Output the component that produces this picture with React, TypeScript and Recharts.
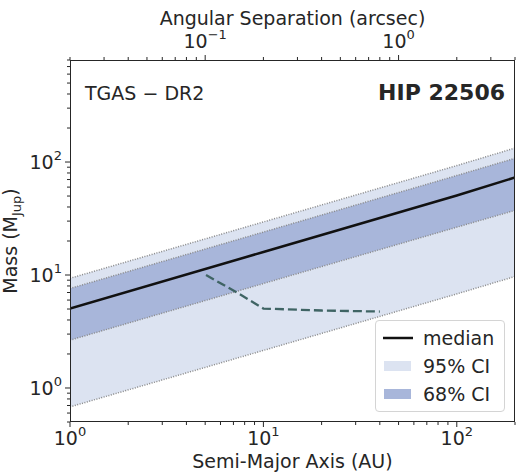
import React from "react";
import { ComposedChart, Area, Line, XAxis, YAxis } from "recharts";

// Mass limits vs. semi-major axis (AU), with credible intervals
const semiMajorAu = [1, 10, 100, 200];
const medianMass = [5.05, 16.0, 50.5, 73];
const ci68Low = [2.65, 8.4, 26.5, 37.3];
const ci68High = [7.6, 24, 76, 108];
const ci95Low = [0.68, 2.15, 6.8, 9.7];
const ci95High = [9.35, 29.5, 93, 133];

// dashed detection-limit curve
const limitAu = [5.05, 7.4, 10, 20, 40];
const limitMass = [10, 6.9, 5.05, 4.85, 4.75];

const distancePc = 50;

const xTicks = [1, 2, 3, 4, 5, 6, 7, 8, 9, 10, 20, 30, 40, 50, 60, 70, 80, 90, 100, 200];
const yTicks = [0.5, 0.6, 0.7, 0.8, 0.9, 1, 2, 3, 4, 5, 6, 7, 8, 9, 10, 20, 30, 40, 50, 60, 70, 80, 90, 100, 200, 300, 400, 500, 600, 700, 800];
const topTicks = [0.02, 0.03, 0.04, 0.05, 0.06, 0.07, 0.08, 0.09, 0.1, 0.2, 0.3, 0.4, 0.5, 0.6, 0.7, 0.8, 0.9, 1, 2, 3, 4];

const FONT = "DejaVu Sans";
const INK = "#262626";
const LIGHT = "#dce3f1";
const DARK = "#a8b6da";
const EDGE = "#8a8a8a";

const bandData = semiMajorAu.map((a, i) => ({
  a,
  arcsec: a / distancePc,
  median: medianMass[i],
  ci68: [ci68Low[i], ci68High[i]],
  ci95: [ci95Low[i], ci95High[i]],
  lo68: ci68Low[i],
  hi68: ci68High[i],
  lo95: ci95Low[i],
  hi95: ci95High[i],
}));

const limitData = limitAu.map((a, i) => ({ a, limit: limitMass[i] }));

const exponentOf = (v: number) => {
  const e = Math.round(Math.log10(v));
  return Math.abs(Math.log10(v) - e) < 1e-6 ? e : null;
};

const PowLabel = ({ exp }: { exp: number }) => (
  <>
    <tspan>10</tspan>
    <tspan dy={-9} fontSize={13}>
      {exp < 0 ? `\u2212${-exp}` : exp}
    </tspan>
  </>
);

const BottomTick = (props: any) => {
  const { x, y, payload } = props;
  const exp = exponentOf(payload.value);
  return (
    <g>
      <line x1={x} x2={x} y1={y} y2={y + (exp === null ? 3 : 5)} stroke={INK} strokeWidth={1} />
      {exp !== null && (
        <text x={x} y={y + 23} textAnchor="middle" fontFamily={FONT} fontSize={19} fill={INK}>
          <PowLabel exp={exp} />
        </text>
      )}
    </g>
  );
};

const TopTick = (props: any) => {
  const { x, y, payload } = props;
  const exp = exponentOf(payload.value);
  return (
    <g>
      <line x1={x} x2={x} y1={y} y2={y - (exp === null ? 3 : 5)} stroke={INK} strokeWidth={1} />
      {exp !== null && (
        <text x={x} y={y - 12} textAnchor="middle" fontFamily={FONT} fontSize={19} fill={INK}>
          <PowLabel exp={exp} />
        </text>
      )}
    </g>
  );
};

const LeftTick = (props: any) => {
  const { x, y, payload } = props;
  const exp = exponentOf(payload.value);
  return (
    <g>
      <line x1={x} x2={x - (exp === null ? 3 : 5)} y1={y} y2={y} stroke={INK} strokeWidth={1} />
      {exp !== null && (
        <text x={x - 8} y={y + 7} textAnchor="end" fontFamily={FONT} fontSize={19} fill={INK}>
          <PowLabel exp={exp} />
        </text>
      )}
    </g>
  );
};

const text = (style: React.CSSProperties): React.CSSProperties => ({
  position: "absolute",
  fontFamily: FONT,
  color: INK,
  fontSize: 19,
  whiteSpace: "nowrap",
  lineHeight: 1,
  ...style,
});

export default function App() {
  return (
    <div style={{ position: "absolute", left: 0, top: 0, width: 518, height: 476, background: "#fff" }}>
      <ComposedChart
        width={518}
        height={476}
        data={bandData}
        margin={{ top: 30, right: 3, bottom: 24, left: 20 }}
      >
        <XAxis
          xAxisId="bottom"
          dataKey="a"
          type="number"
          scale="log"
          domain={[1, 200]}
          allowDataOverflow
          ticks={xTicks}
          interval={0}
          tickSize={0}
          tickMargin={0}
          axisLine={false}
          tick={<BottomTick />}
          height={30}
        />
        <XAxis
          xAxisId="top"
          dataKey="arcsec"
          orientation="top"
          type="number"
          scale="log"
          domain={[1 / distancePc, 200 / distancePc]}
          allowDataOverflow
          ticks={topTicks}
          interval={0}
          tickSize={0}
          tickMargin={0}
          axisLine={false}
          tick={<TopTick />}
          height={30}
        />
        <YAxis
          type="number"
          scale="log"
          domain={[0.5, 800]}
          allowDataOverflow
          ticks={yTicks}
          interval={0}
          tickSize={0}
          tickMargin={0}
          axisLine={false}
          tick={<LeftTick />}
          width={50}
        />
        {/* carries the angular-separation axis; not drawn */}
        <Line
          xAxisId="top"
          dataKey="median"
          stroke="none"
          dot={false}
          activeDot={false}
          isAnimationActive={false}
        />
        <Area xAxisId="bottom" dataKey="ci95" fill={LIGHT} fillOpacity={1} stroke="none" isAnimationActive={false} />
        <Area xAxisId="bottom" dataKey="ci68" fill={DARK} fillOpacity={1} stroke="none" isAnimationActive={false} />
        {["lo95", "hi95", "lo68", "hi68"].map((k) => (
          <Line
            key={k}
            xAxisId="bottom"
            dataKey={k}
            stroke={EDGE}
            strokeWidth={1.5}
            strokeDasharray="1 1.5"
            dot={false}
            activeDot={false}
            isAnimationActive={false}
          />
        ))}
        <Line
          xAxisId="bottom"
          dataKey="median"
          stroke="#111"
          strokeWidth={2.5}
          dot={false}
          activeDot={false}
          isAnimationActive={false}
        />
        <Line
          xAxisId="bottom"
          data={limitData}
          dataKey="limit"
          stroke="#3f6464"
          strokeWidth={2.3}
          strokeDasharray="9 4"
          dot={false}
          activeDot={false}
          isAnimationActive={false}
        />
      </ComposedChart>

      {/* plot frame */}
      <div
        style={{
          position: "absolute",
          left: 70,
          top: 60,
          width: 445,
          height: 362,
          border: `1.3px solid ${INK}`,
          boxSizing: "border-box",
          pointerEvents: "none",
        }}
      />

      <div style={text({ left: 292.5, top: 9, transform: "translateX(-50%)" })}>Angular Separation (arcsec)</div>
      <div style={text({ left: 292.5, top: 452, transform: "translateX(-50%)" })}>Semi-Major Axis (AU)</div>
      <div style={text({ left: 12, top: 241, transform: "translate(-50%, -50%) rotate(-90deg)" })}>
        Mass (M<sub style={{ fontSize: 13, verticalAlign: -4 }}>Jup</sub>)
      </div>

      <div style={text({ left: 85, top: 84 })}>TGAS − DR2</div>
      <div style={text({ right: 518 - 505, top: 82, fontSize: 22, fontWeight: "bold" })}>HIP 22506</div>

      {/* legend */}
      <div
        style={{
          position: "absolute",
          left: 375,
          top: 320,
          width: 130,
          height: 92,
          border: "1px solid #d4d4d4",
          borderRadius: 4,
          background: "rgba(255,255,255,0.85)",
          boxSizing: "border-box",
        }}
      >
        <svg width={40} height={92} style={{ position: "absolute", left: 0, top: 0 }}>
          <line x1={7} x2={37} y1={17} y2={17} stroke="#111" strokeWidth={2.5} />
          <rect x={8} y={40} width={27} height={10} fill={LIGHT} />
          <rect x={8} y={68} width={27} height={10} fill={DARK} />
        </svg>
        <div style={text({ left: 47, top: 8 })}>median</div>
        <div style={text({ left: 47, top: 36 })}>95% CI</div>
        <div style={text({ left: 47, top: 64 })}>68% CI</div>
      </div>
    </div>
  );
}
